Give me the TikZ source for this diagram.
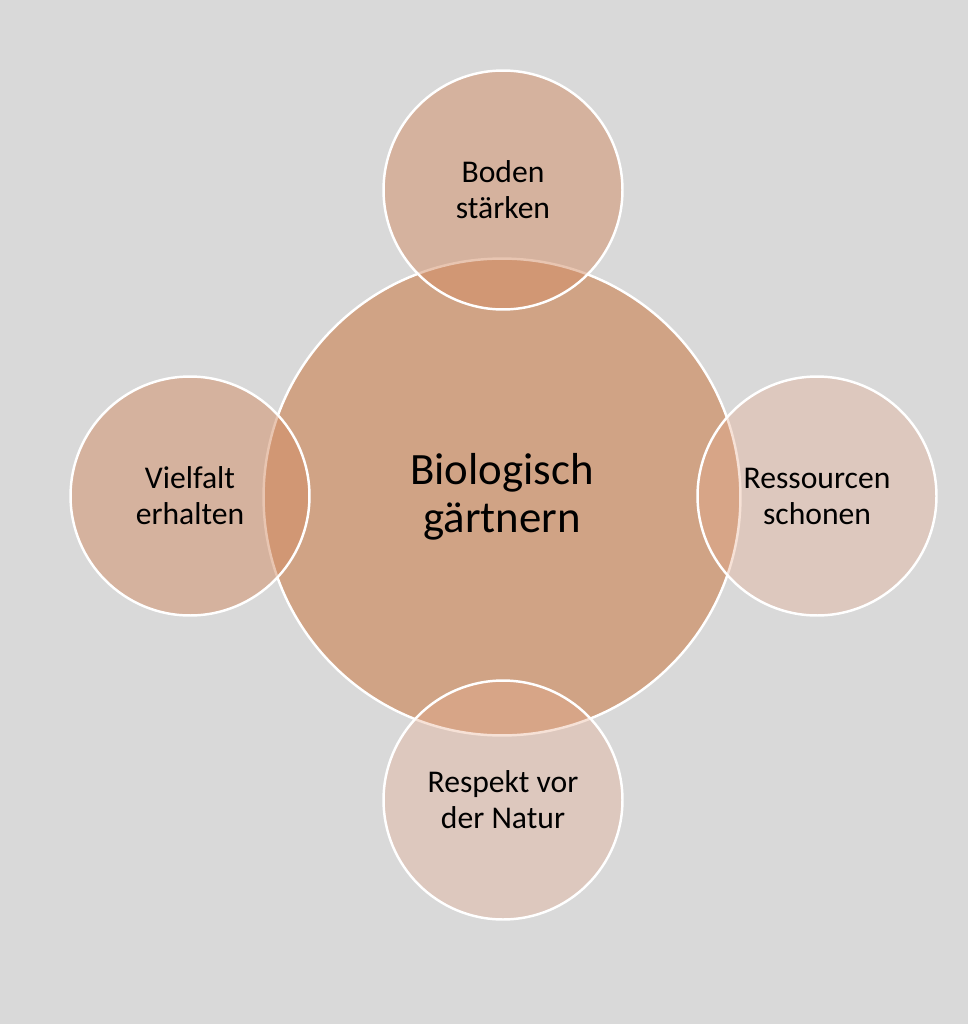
\documentclass[tikz,border=0pt]{standalone}
\usepackage{fontspec}
\setmainfont{Carlito}
\usetikzlibrary{positioning}

\definecolor{bggray}{RGB}{217,217,217}
\definecolor{clay}{RGB}{205,145,105}
\definecolor{claylight}{RGB}{210,140,100}
\definecolor{claypale}{RGB}{230,170,140}

\begin{document}
\begin{tikzpicture}[x=0.02cm,y=-0.02cm]

    \tikzstyle{petal} = [circle,draw=white,line width=1.4pt,
        text opacity=1,inner sep=0pt,minimum size=4.78cm,align=center,
        font=\fontsize{18}{20.5}\selectfont]
    \tikzstyle{core} = [petal,fill=clay,fill opacity=0.75,minimum size=9.54cm,
        font=\fontsize{25.5}{27.5}\selectfont]
    \tikzstyle{warm} = [petal,fill=claylight,fill opacity=0.5]
    \tikzstyle{pale} = [petal,fill=claypale,fill opacity=0.35]

    % background
    \fill[bggray] (0,0) rectangle (968,1024);

    \node[core] (bio) at (502,497) {Biologisch\\gärtnern};
    \node[warm] (boden) at (503,190) {Boden\\stärken};
    \node[warm] (vielfalt) at (190,496) {Vielfalt\\erhalten};
    \node[pale] (ressourcen) at (817,496) {Ressourcen\\schonen};
    \node[pale] (respekt) at (503,800) {Respekt vor\\der Natur};

\end{tikzpicture}
\end{document}
